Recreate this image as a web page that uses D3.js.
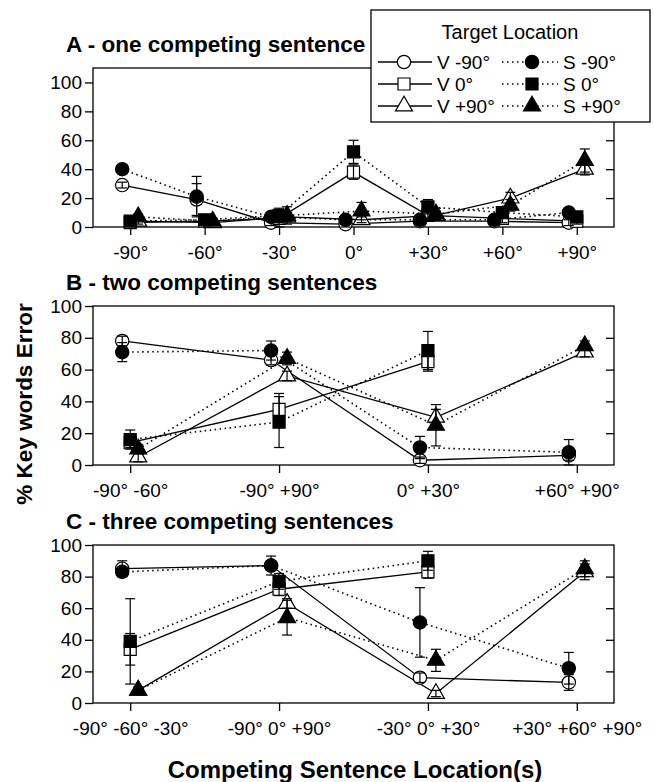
<!DOCTYPE html>
<html>
<head>
<meta charset="utf-8">
<script src="https://cdn.jsdelivr.net/npm/d3@7"></script>
<style>
  body { margin: 0; background: #fff; }
  text { font-family: "Liberation Sans", Arial, sans-serif; fill: #000; }
</style>
</head>
<body>
<div id="chart"></div>
<script>
// series order: V -90°, V 0°, V +90°, S -90°, S 0°, S +90°
var seriesNames = ["V -90°", "V 0°", "V +90°", "S -90°", "S 0°", "S +90°"];
var targets = ["-90°", "0°", "+90°"];
var yTicks = [0, 20, 40, 60, 80, 100];

var panelTitles = ["A - one competing sentence", "B - two competing sentences", "C - three competing sentences"];

var locationsA = ["-90°", "-60°", "-30°", "0°", "+30°", "+60°", "+90°"];
var locationsB = ["-90° -60°", "-90° +90°", "0° +30°", "+60° +90°"];
var locationsC = ["-90° -60° -30°", "-90° 0° +90°", "-30° 0° +30°", "+30° +60° +90°"];

// % key words error, one row per series
var valuesA = [
  [29, 19, 3, 2, 4, 4, 3],
  [3, 4, 6, 38, 8, 6, 4],
  [4, 3, 7, 5, 8, 20, 40],
  [40, 21, 7, 5, 5, 5, 10],
  [4, 5, 8, 52, 14, 10, 7],
  [7, 4, 8, 11, 9, 15, 46]
];
var errorsA = [
  [2, 11, 2, 2, 2, 2, 2],
  [2, 2, 6, 5, 3, 3, 2],
  [2, 2, 3, 2, 3, 4, 4],
  [2, 14, 3, 3, 3, 2, 3],
  [2, 2, 5, 8, 5, 3, 3],
  [2, 2, 6, 6, 4, 4, 8]
];

var valuesB = [
  [78, 66, 3, 6],
  [14, 35, 65, null],
  [5, 56, 30, 71],
  [71, 72, 11, 8],
  [16, 27, 72, null],
  [10, 67, 25, 75]
];
var errorsB = [
  [3, 3, 2, 3],
  [3, 10, 6, null],
  [3, 3, 5, 3],
  [6, 6, 7, 8],
  [6, 16, 12, null],
  [3, 4, 13, 3]
];

var valuesC = [
  [85, 87, 16, 13],
  [34, 72, 83, null],
  [8, 63, 6, 83],
  [83, 87, 51, 22],
  [39, 77, 90, null],
  [8, 54, 27, 85]
];
var errorsC = [
  [5, 3, 3, 5],
  [10, 4, 4, null],
  [2, 3, 2, 5],
  [3, 6, 22, 10],
  [27, 5, 6, null],
  [2, 11, 7, 5]
];

var width = 654, height = 782;
var left = 93, right = 614;

var panels = [
  {title: panelTitles[0], locs: locationsA, values: valuesA, errors: errorsA, top: 68, bottom: 227, ymax: 110, pad: 0.5},
  {title: panelTitles[1], locs: locationsB, values: valuesB, errors: errorsB, top: 306, bottom: 465, ymax: 100, pad: 0.25},
  {title: panelTitles[2], locs: locationsC, values: valuesC, errors: errorsC, top: 545, bottom: 703, ymax: 100, pad: 0.25}
];

var shapes = [d3.symbolCircle, d3.symbolSquare, d3.symbolTriangle];
var sizes = [140, 145, 125];

var svg = d3.select("#chart").append("svg")
  .attr("width", width)
  .attr("height", height);

// small horizontal shift per target location so markers don't sit on top of each other
var shift = d3.scalePoint().domain(targets).range([-8, 8]);

panels.forEach(function (p) {
  var x = d3.scalePoint().domain(p.locs).range([left, right]).padding(p.pad);
  var y = d3.scaleLinear().domain([0, p.ymax]).range([p.bottom, p.top]);

  var g = svg.append("g");

  g.append("text")
    .attr("x", 66)
    .attr("y", p.top - 16)
    .attr("font-size", 22.5)
    .attr("font-weight", "bold")
    .text(p.title);

  g.append("rect")
    .attr("x", left).attr("y", p.top)
    .attr("width", right - left).attr("height", p.bottom - p.top)
    .attr("fill", "none").attr("stroke", "#000").attr("stroke-width", 1.3);

  var yAxis = g.append("g")
    .attr("transform", "translate(" + left + ",0)")
    .call(d3.axisLeft(y).tickValues(yTicks).tickSize(8).tickPadding(3));
  yAxis.select(".domain").remove();
  yAxis.selectAll("text").attr("font-size", 19).attr("font-family", "Liberation Sans, Arial, sans-serif");
  yAxis.selectAll("line").attr("stroke-width", 1.3);

  // mirrored ticks on the right, pointing inward
  var yAxisR = g.append("g")
    .attr("transform", "translate(" + right + ",0)")
    .call(d3.axisLeft(y).tickValues(yTicks.slice(1, 5)).tickSize(8).tickFormat(""));
  yAxisR.select(".domain").remove();
  yAxisR.selectAll("line").attr("stroke-width", 1.3);

  var xAxis = g.append("g")
    .attr("transform", "translate(0," + p.bottom + ")")
    .call(d3.axisBottom(x).tickSize(8).tickPadding(11));
  xAxis.select(".domain").remove();
  xAxis.selectAll("text").attr("font-size", 19).attr("font-family", "Liberation Sans, Arial, sans-serif");
  xAxis.selectAll("line").attr("stroke-width", 1.3);

  var rows = p.values.map(function (vals, si) {
    return vals.map(function (v, i) {
      return {s: si, loc: p.locs[i], value: v, err: p.errors[si][i]};
    });
  });

  var px = function (d) { return x(d.loc) + shift(targets[d.s % 3]); };

  var line = d3.line()
    .defined(function (d) { return d.value != null; })
    .x(px)
    .y(function (d) { return y(d.value); });

  g.selectAll(".series")
    .data(rows)
    .enter().append("path")
    .attr("fill", "none")
    .attr("stroke", "#000")
    .attr("stroke-width", function (r) { return r[0].s < 3 ? 1.3 : 1.6; })
    .attr("stroke-dasharray", function (r) { return r[0].s < 3 ? null : "1.5,3.5"; })
    .attr("d", line);

  var pts = d3.merge(rows).filter(function (d) { return d.value != null; });

  g.selectAll(".marker")
    .data(pts)
    .enter().append("path")
    .attr("transform", function (d) { return "translate(" + px(d) + "," + y(d.value) + ")"; })
    .attr("d", function (d) {
      return d3.symbol().type(shapes[d.s % 3]).size(sizes[d.s % 3])();
    })
    .attr("fill", function (d) { return d.s < 3 ? "#fff" : "#000"; })
    .attr("stroke", "#000")
    .attr("stroke-width", 1.2);

  var bars = g.selectAll(".err")
    .data(pts)
    .enter().append("g")
    .attr("stroke", "#000")
    .attr("stroke-width", 1.2);
  bars.append("line")
    .attr("x1", px).attr("x2", px)
    .attr("y1", function (d) { return y(d.value - d.err); })
    .attr("y2", function (d) { return y(d.value + d.err); });
  bars.append("line")
    .attr("x1", function (d) { return px(d) - 5; }).attr("x2", function (d) { return px(d) + 5; })
    .attr("y1", function (d) { return y(d.value + d.err); })
    .attr("y2", function (d) { return y(d.value + d.err); });
  bars.append("line")
    .attr("x1", function (d) { return px(d) - 5; }).attr("x2", function (d) { return px(d) + 5; })
    .attr("y1", function (d) { return y(d.value - d.err); })
    .attr("y2", function (d) { return y(d.value - d.err); });
});

// axis titles
svg.append("text")
  .attr("transform", "translate(32,404) rotate(-90)")
  .attr("text-anchor", "middle")
  .attr("font-size", 22.5)
  .attr("font-weight", "bold")
  .text("% Key words Error");

svg.append("text")
  .attr("x", 355)
  .attr("y", 778)
  .attr("text-anchor", "middle")
  .attr("font-size", 24)
  .attr("font-weight", "bold")
  .text("Competing Sentence Location(s)");

// legend
var legend = svg.append("g");
legend.append("rect")
  .attr("x", 371).attr("y", 10)
  .attr("width", 279).attr("height", 112)
  .attr("fill", "#fff").attr("stroke", "#000").attr("stroke-width", 1.3);
legend.append("text")
  .attr("x", 510).attr("y", 39)
  .attr("text-anchor", "middle")
  .attr("font-size", 20)
  .text("Target Location");

var legendRow = d3.scalePoint().domain(targets).range([62, 106]);

targets.forEach(function (t, ti) {
  var ly = legendRow(t);
  [0, 1].forEach(function (k) {
    var si = k * 3 + ti;
    var x0 = k === 0 ? 378 : 502, x1 = k === 0 ? 432 : 558, mx = k === 0 ? 404 : 532;
    legend.append("line")
      .attr("x1", x0).attr("x2", x1).attr("y1", ly).attr("y2", ly)
      .attr("stroke", "#000")
      .attr("stroke-width", k === 0 ? 1.3 : 1.6)
      .attr("stroke-dasharray", k === 0 ? null : "1.5,3.5");
    legend.append("path")
      .attr("transform", "translate(" + mx + "," + ly + ")")
      .attr("d", d3.symbol().type(shapes[ti]).size(sizes[ti])())
      .attr("fill", k === 0 ? "#fff" : "#000")
      .attr("stroke", "#000").attr("stroke-width", 1.2);
    legend.append("text")
      .attr("x", k === 0 ? 437 : 563).attr("y", ly + 7)
      .attr("font-size", 19)
      .text(seriesNames[si]);
  });
});
</script>
</body>
</html>
